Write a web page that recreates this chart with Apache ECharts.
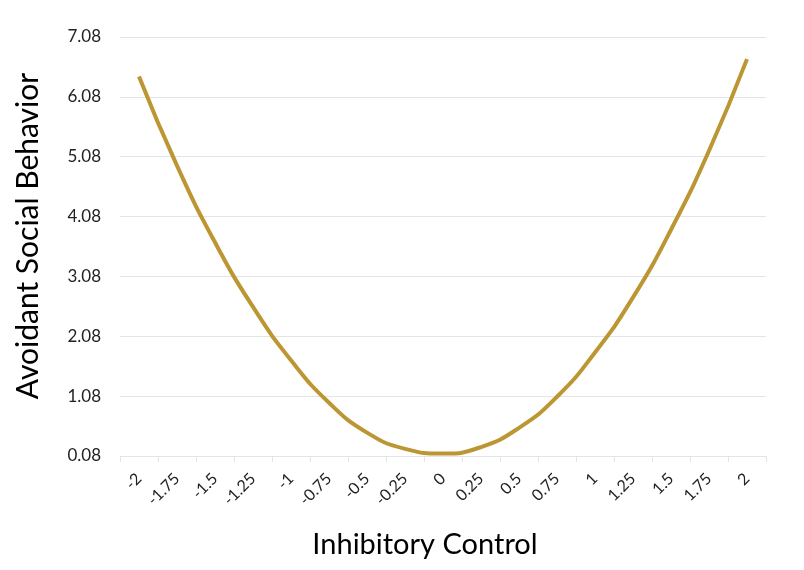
<!DOCTYPE html>
<html>
    <head>
        <meta charset="UTF-8">
        <script src="https://cdn.jsdelivr.net/npm/echarts@6/dist/echarts.min.js"></script>
        <style>
            html, body { margin: 0; padding: 0; background: #fff; }
            #main { width: 804px; height: 570px; }
        </style>
    </head>

    <body>
        <div id="main"></div>
    </body>

    <script>
        // x categories (inhibitory control levels)
        var controlLevels = ['-2', '-1.75', '-1.5', '-1.25', '-1', '-0.75', '-0.5', '-0.25', '0',
                             '0.25', '0.5', '0.75', '1', '1.25', '1.5', '1.75', '2'];
        // avoidant social behavior
        var avoidantValues = [6.42, 4.93, 3.65, 2.57, 1.68, 0.97, 0.47, 0.20, 0.12,
                              0.23, 0.55, 1.07, 1.81, 2.73, 3.86, 5.18, 6.71];
        // y axis range
        var yMin = 0.08;
        var yMax = 7.08;
        var yStep = 1;

        var gridColor = '#e1e5ea';
        var dom = document.getElementById('main');
        var myChart = echarts.init(dom);
        var option = {
            animation: false,
            grid: {
                left: 120,
                right: 38,
                top: 37,
                bottom: 114
            },
            xAxis: {
                type: 'category',
                data: controlLevels,
                boundaryGap: true,
                axisLine: { lineStyle: { color: gridColor, width: 1 } },
                axisTick: { show: true, length: 6, lineStyle: { color: gridColor } },
                axisLabel: {
                    rotate: 45,
                    margin: 20,
                    interval: 0,
                    fontFamily: 'Lato',
                    fontSize: 16,
                    color: '#222'
                },
                splitLine: { show: false }
            },
            yAxis: {
                type: 'value',
                min: yMin,
                max: yMax,
                interval: yStep,
                axisLine: { show: false },
                axisTick: { show: false },
                axisLabel: {
                    margin: 19,
                    fontFamily: 'Lato',
                    fontSize: 17,
                    color: '#222',
                    formatter: function (v) { return v.toFixed(2); }
                },
                splitLine: { lineStyle: { color: gridColor, width: 1 } }
            },
            graphic: [
                {
                    type: 'text',
                    x: 425,
                    y: 545,
                    style: {
                        text: 'Inhibitory Control',
                        font: '29px Lato',
                        fill: '#000',
                        textAlign: 'center',
                        textVerticalAlign: 'middle'
                    }
                },
                {
                    type: 'text',
                    x: 28,
                    y: 236,
                    rotation: Math.PI / 2,
                    style: {
                        text: 'Avoidant Social Behavior',
                        font: '30px Lato',
                        fill: '#000',
                        textAlign: 'center',
                        textVerticalAlign: 'middle'
                    }
                }
            ],
            series: [
                {
                    name: 'Avoidant Social Behavior',
                    type: 'line',
                    data: avoidantValues,
                    smooth: true,
                    symbol: 'none',
                    lineStyle: { color: '#bc9632', width: 4 }
                }
            ]
        };
        myChart.setOption(option, true);
    </script>
</html>
